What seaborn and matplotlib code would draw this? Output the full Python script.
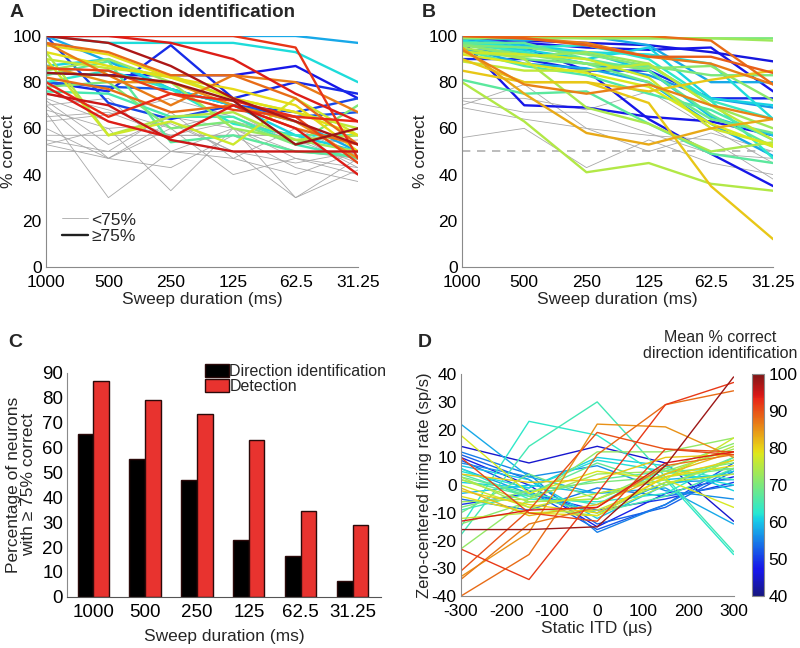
import matplotlib
matplotlib.use("Agg")
import matplotlib.pyplot as plt
import matplotlib as mpl
import seaborn as sns
import numpy as np
import pandas as pd

# ---- data -------------------------------------------------------------
durations = [1000, 500, 250, 125, 62.5, 31.25]
duration_labels = ["1000", "500", "250", "125", "62.5", "31.25"]

# panel A: direction identification, neurons >= 75% (colour value 0..1 on jet)
dir_good = [
    [100, 100, 100, 100, 100, 97],
    [100, 97, 97, 97, 93, 80],
    [100, 100, 100, 100, 95, 47],
    [100, 97, 87, 73, 63, 53],
    [100, 100, 97, 90, 75, 63],
    [100, 89, 77, 70, 63, 50],
    [97, 93, 83, 83, 73, 53],
    [93, 87, 82, 73, 67, 57],
    [90, 86, 83, 73, 67, 60],
    [87, 90, 77, 70, 57, 50],
    [84, 83, 83, 83, 87, 73],
    [80, 76, 96, 73, 80, 75],
    [100, 71, 64, 70, 67, 73],
    [85, 90, 80, 60, 55, 50],
    [83, 89, 54, 57, 50, 48],
    [80, 65, 75, 72, 65, 63],
    [78, 63, 56, 70, 60, 40],
    [75, 70, 55, 50, 50, 50],
    [90, 57, 63, 53, 73, 57],
    [93, 57, 65, 67, 55, 57],
    [97, 83, 70, 83, 80, 67],
    [87, 80, 80, 70, 63, 47],
    [84, 83, 80, 72, 53, 60],
    [86, 85, 75, 68, 65, 45],
    [80, 85, 77, 62, 57, 57],
    [96, 92, 82, 77, 70, 50],
    [78, 80, 60, 63, 53, 70],
    [82, 77, 67, 70, 60, 53],
    [76, 75, 65, 65, 53, 47],
    [80, 78, 77, 70, 65, 67],
]
dir_good_col = [0.30, 0.36, 0.87, 0.95, 0.90, 0.30, 0.80, 0.65, 0.60, 0.35,
                0.12, 0.15, 0.18, 0.55, 0.45, 0.88, 0.90, 0.92, 0.62, 0.58,
                0.78, 0.75, 0.97, 0.85, 0.38, 0.66, 0.50, 0.80, 0.42, 0.20]
dir_poor = [
    [73, 63, 57, 57, 57, 50],
    [70, 47, 60, 40, 47, 43],
    [67, 30, 50, 60, 30, 42],
    [60, 47, 43, 57, 43, 37],
    [55, 50, 67, 47, 40, 50],
    [53, 60, 33, 60, 50, 47],
    [50, 50, 50, 50, 50, 50],
    [57, 57, 57, 57, 57, 53],
    [63, 66, 73, 65, 55, 45],
    [68, 60, 62, 50, 30, 47],
    [72, 53, 65, 60, 47, 40],
    [65, 67, 57, 63, 57, 43],
    [53, 47, 63, 50, 45, 50],
    [75, 68, 60, 67, 53, 55],
    [70, 73, 50, 47, 60, 48],
]

# panel B: detection
det_good = [
    [100, 100, 100, 100, 98, 79],
    [100, 99, 96, 91, 91, 84],
    [99, 99, 99, 99, 99, 98],
    [100, 100, 99, 99, 99, 99],
    [98, 97, 95, 94, 95, 76],
    [99, 98, 97, 96, 93, 89],
    [100, 98, 100, 96, 80, 80],
    [90, 90, 85, 85, 73, 73],
    [98, 70, 69, 65, 63, 57],
    [98, 95, 85, 64, 49, 35],
    [80, 63, 41, 45, 36, 33],
    [90, 80, 80, 71, 35, 12],
    [95, 75, 58, 53, 60, 64],
    [94, 79, 75, 79, 70, 64],
    [81, 75, 76, 62, 49, 45],
    [85, 80, 80, 76, 81, 85],
    [97, 93, 88, 87, 72, 64],
    [96, 94, 90, 95, 73, 70],
    [97, 95, 96, 90, 72, 47],
    [99, 96, 93, 85, 65, 57],
    [95, 88, 86, 80, 62, 48],
    [94, 87, 83, 75, 68, 55],
    [97, 90, 88, 80, 64, 58],
    [96, 92, 88, 86, 87, 72],
    [95, 90, 69, 62, 50, 54],
    [93, 92, 90, 82, 60, 53],
    [92, 88, 84, 78, 62, 52],
    [89, 85, 85, 88, 70, 55],
    [97, 97, 90, 85, 66, 52],
    [96, 95, 92, 87, 83, 83],
    [98, 95, 93, 92, 88, 64],
    [94, 93, 88, 83, 73, 69],
    [93, 91, 93, 88, 70, 60],
    [100, 99, 97, 91, 88, 79],
]
det_good_col = [0.80, 0.82, 0.55, 0.50, 0.12, 0.10, 0.30, 0.15, 0.12, 0.12,
                0.58, 0.68, 0.72, 0.77, 0.45, 0.68, 0.40, 0.35, 0.38, 0.33,
                0.30, 0.43, 0.48, 0.52, 0.57, 0.62, 0.64, 0.60, 0.46, 0.50,
                0.36, 0.28, 0.55, 0.78]
det_poor = [
    [73, 73, 68, 76, 60, 45],
    [70, 79, 60, 57, 55, 38],
    [69, 64, 60, 50, 58, 50],
    [56, 60, 43, 55, 45, 40],
    [72, 67, 67, 58, 49, 47],
]

# panel C
pct_direction = [65.3, 55.2, 47.0, 22.7, 16.5, 6.3]
pct_detection = [86.7, 78.9, 73.6, 63.1, 34.3, 29.0]

# panel D: zero-centred rate vs static ITD, coloured by mean % correct
itd = [-300, -150, 0, 150, 300]
rate_curves = [
    [-16, -16, -15, 7, 39], [-23, -34, -3, 29, 37], [-40, -25, 11, 29, 34],
    [-33, -17, 22, 21, 10], [-31, -9, 19, 13, 12], [-34, -14, -8, 7, 11],
    [10, -10, -13, 13, 11], [-13, -9, -8, 8, 12], [-18, 14, 30, 3, -24],
    [-15, 23, 18, 2, -25], [14, 8, 14, 8, -13], [22, 3, -3, -1, -14],
    [18, -3, 5, 2, -8], [-23, -5, 12, 12, 17], [12, 4, -17, -7, 6],
    [9, -2, -16, -7, 8], [10, 0, -15, -3, 3], [7, 2, -12, 0, 5],
    [6, -3, -10, 1, 2], [5, -1, 9, 5, 0], [4, -4, -10, -4, 6],
    [3, -3, 8, 0, 10], [2, -6, -5, 4, 14], [0, -8, -3, 2, 17],
    [-2, -7, -10, 3, 9], [-4, -10, -11, 3, 7], [-6, -5, 4, 5, 13],
    [-8, -2, 1, 3, 6], [-10, 4, -5, 4, 8], [-9, -3, -7, 6, 2],
    [1, -1, 10, 7, -2], [8, 3, 7, -2, -5], [-3, 0, -3, 2, 4],
    [-5, -9, -1, -4, 0], [2, -4, 2, 5, 6], [-12, -10, -9, 1, 4],
    [-1, -11, -7, 4, 12], [3, -8, -11, 0, 9], [-7, -3, -9, -5, 1],
    [11, 2, -14, -8, 5], [-14, -6, -5, 6, 15], [6, -5, -6, -3, 10],
    [4, 1, 2, 10, 11],
]
rate_score = [98, 92, 88, 85, 90, 87, 91, 94, 65, 63, 45, 58, 78, 72, 55,
              52, 48, 60, 57, 62, 66, 68, 75, 77, 80, 79, 73, 70, 69, 64,
              61, 56, 59, 54, 67, 76, 82, 74, 50, 53, 71, 63, 81]


def long_df(curves, xs, col=None):
    rows = []
    for i, ys in enumerate(curves):
        for x, y in zip(xs, ys):
            rows.append({"line": i, "x": x, "y": y,
                         "c": col[i] if col is not None else 0})
    return pd.DataFrame(rows)


# ---- style ------------------------------------------------------------
sns.set_style("white")
plt.rcParams['font.family'] = ['Liberation Sans', 'DejaVu Sans']
plt.rcParams['font.size'] = 12
plt.rcParams['axes.unicode_minus'] = False
plt.rcParams['axes.edgecolor'] = '#8a8a8a'
plt.rcParams['axes.linewidth'] = 0.8
plt.rcParams['xtick.direction'] = 'in'
plt.rcParams['ytick.direction'] = 'in'
plt.rcParams['xtick.color'] = '#8a8a8a'
plt.rcParams['ytick.color'] = '#8a8a8a'
plt.rcParams['xtick.labelcolor'] = 'black'
plt.rcParams['ytick.labelcolor'] = 'black'
plt.rcParams['xtick.labelsize'] = 12.5
plt.rcParams['ytick.labelsize'] = 12.5
plt.rcParams['xtick.major.pad'] = 6
plt.rcParams['ytick.major.pad'] = 3

fig = plt.figure(figsize=(8, 6.48), dpi=100)
axA = fig.add_axes([0.0575, 0.588, 0.39, 0.3565])
axB = fig.add_axes([0.5775, 0.588, 0.389, 0.3565])
axC = fig.add_axes([0.084, 0.079, 0.3925, 0.3457])
axD = fig.add_axes([0.576, 0.080, 0.341, 0.3426])
cax = fig.add_axes([0.940, 0.080, 0.015, 0.3426])

# slightly muted jet, like the printed figure
_j = plt.get_cmap('jet')(np.linspace(0, 1, 256))[:, :3]
jet = mpl.colors.ListedColormap(0.82 * _j + 0.18 * 0.5)


def sweep_panel(ax, good, good_col, poor, ylab_x):
    ax.set_xscale('log')
    dpoor = long_df(poor, durations)
    sns.lineplot(data=dpoor, x="x", y="y", units="line", estimator=None,
                 color='#a8a8a8', lw=0.6, ax=ax, legend=False)
    dgood = long_df(good, durations, good_col)
    sns.lineplot(data=dgood, x="x", y="y", units="line", estimator=None,
                 hue="c", palette=jet, hue_norm=(0, 1), lw=1.7, ax=ax,
                 legend=False)
    ax.set_xlim(1000, 31.25)
    ax.set_ylim(0, 100)
    ax.set_xticks(durations)
    ax.set_xticklabels(duration_labels)
    ax.xaxis.set_minor_locator(mpl.ticker.LogLocator(base=10, subs=np.arange(2, 10)))
    ax.xaxis.set_minor_formatter(mpl.ticker.NullFormatter())
    ax.set_yticks(range(0, 101, 20))
    ax.tick_params(which='major', length=4)
    ax.tick_params(which='minor', length=2)
    ax.set_xlabel("Sweep duration (ms)", fontsize=12.5, labelpad=1)
    ax.set_ylabel("% correct", fontsize=12.5)
    ax.yaxis.set_label_coords(ylab_x, 0.5)
    sns.despine(ax=ax)


sweep_panel(axA, dir_good, dir_good_col, dir_poor, -0.097)
sweep_panel(axB, det_good, det_good_col, det_poor, -0.108)
axB.axhline(50, color='#b0b0b0', ls=(0, (5, 4)), lw=1.2, zorder=0)

# legend in A
hA = [mpl.lines.Line2D([], [], color='#a8a8a8', lw=0.6),
      mpl.lines.Line2D([], [], color='#202020', lw=1.7)]
axA.legend(hA, ["<75%", "≥75%"], loc='lower left', frameon=False,
           bbox_to_anchor=(0.0, 0.03), handlelength=1.5, handletextpad=0.2,
           labelspacing=0.1, fontsize=12.5)

# ---- panel C ----------------------------------------------------------
dfc = pd.DataFrame({
    "duration": duration_labels * 2,
    "pct": pct_direction + pct_detection,
    "task": ["Direction identification"] * 6 + ["Detection"] * 6,
})
sns.barplot(data=dfc, x="duration", y="pct", hue="task", order=duration_labels,
            palette={"Direction identification": "black", "Detection": "#e8332f"},
            saturation=1, width=0.6, edgecolor='#2a0a0a', linewidth=1.0, ax=axC)
axC.set_xlim(-0.5, 5.55)
axC.set_ylim(0, 90)
axC.set_yticks(range(0, 91, 10))
axC.tick_params(axis='x', length=0, pad=5, labelsize=13.5)
axC.tick_params(axis='y', length=4, labelsize=13.5)
axC.set_xlabel("Sweep duration (ms)", fontsize=12.5, labelpad=6)
axC.set_ylabel("Percentage of neurons\nwith ≥ 75% correct", fontsize=12.5,
               linespacing=1.0)
axC.yaxis.set_label_coords(-0.10, 0.5)
axC.spines['bottom'].set_color('#555555')
sns.despine(ax=axC)
axC.legend(loc='upper left', bbox_to_anchor=(0.42, 1.07), frameon=False,
           fontsize=11.5, handlelength=1.45, handleheight=0.9,
           handletextpad=0.05, labelspacing=0.0, borderaxespad=0)

# ---- panel D ----------------------------------------------------------
dfd = long_df(rate_curves, itd, rate_score)
sns.lineplot(data=dfd, x="x", y="y", units="line", estimator=None, hue="c",
             palette=jet, hue_norm=(40, 100), lw=1.0, ax=axD, legend=False)
axD.set_xlim(-300, 300)
axD.set_ylim(-40, 40)
axD.set_xticks(range(-300, 301, 100))
axD.set_yticks(range(-40, 41, 10))
axD.tick_params(length=4)
axD.set_xlabel("Static ITD (µs)", fontsize=12.5, labelpad=1)
axD.set_ylabel("Zero-centered firing rate (sp/s)", fontsize=12, labelpad=0)
sns.despine(ax=axD)

sm = mpl.cm.ScalarMappable(norm=mpl.colors.Normalize(40, 100), cmap=jet)
cb = fig.colorbar(sm, cax=cax)
cb.set_ticks(range(40, 101, 10))
cb.ax.tick_params(length=3, labelsize=12.5)
cb.outline.set_edgecolor('#8a8a8a')
cb.outline.set_linewidth(0.8)

# ---- texts ------------------------------------------------------------
fig.text(0.2425, 0.98, "Direction identification", ha='center', va='center',
         fontsize=13.5, fontweight='bold')
fig.text(0.7675, 0.98, "Detection", ha='center', va='center',
         fontsize=13.5, fontweight='bold')
fig.text(0.9, 0.467, "Mean % correct\ndirection identification",
         ha='center', va='center', fontsize=11.5, linespacing=1.05)
for lbl, x, y in [("A", 0.012, 0.98), ("B", 0.527, 0.98),
                  ("C", 0.010, 0.472), ("D", 0.522, 0.472)]:
    fig.text(x, y, lbl, ha='left', va='center', fontsize=14,
             fontweight='bold')

fig.savefig("out.png", dpi=100)
